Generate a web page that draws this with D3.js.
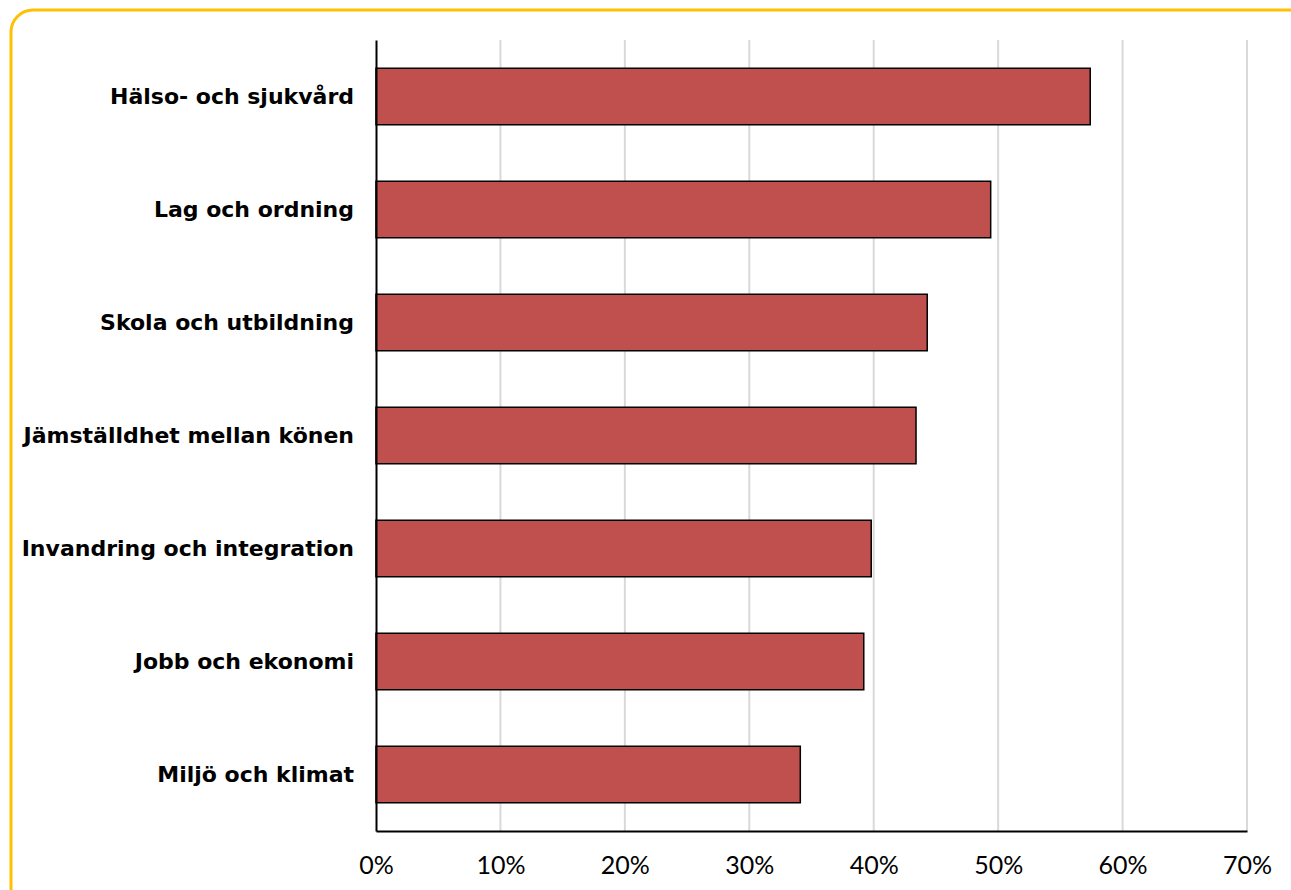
<!DOCTYPE html>
<html><head><meta charset="utf-8">
<script src="https://cdn.jsdelivr.net/npm/d3@7"></script>
<style>body{margin:0;background:#fff;}svg{display:block;}</style>
</head><body>
<script>
const categories = ["Hälso- och sjukvård","Lag och ordning","Skola och utbildning","Jämställdhet mellan könen","Invandring och integration","Jobb och ekonomi","Miljö och klimat"];
const values = [0.574, 0.494, 0.443, 0.434, 0.398, 0.392, 0.341];
const tickValues = [0,0.1,0.2,0.3,0.4,0.5,0.6,0.7];

(function(){
const W = 1291, H = 890;
const svg = d3.select("body").append("svg").attr("width", W).attr("height", H);

svg.append("rect").attr("x", 11).attr("y", 10).attr("width", 1300).attr("height", 900)
  .attr("rx", 22).attr("fill", "none").attr("stroke", "#FFC000").attr("stroke-width", 3);

const pl = 376, pr = 1247, pt = 40, pb = 831;
const x = d3.scaleLinear().domain([0, 0.7]).range([pl, pr]);
const y = d3.scaleBand().domain(categories).range([pt, pb]).paddingInner(0.5).paddingOuter(0.25);

svg.append("g").selectAll("line").data(tickValues.slice(1)).join("line")
  .attr("x1", d => x(d)).attr("x2", d => x(d)).attr("y1", pt).attr("y2", pb)
  .attr("stroke", "#d9d9d9").attr("stroke-width", 2);

svg.append("g").selectAll("rect").data(categories).join("rect")
  .attr("x", x(0)).attr("y", d => y(d)).attr("width", (d,i) => x(values[i]) - x(0))
  .attr("height", y.bandwidth()).attr("fill", "#C0504D").attr("stroke", "#000").attr("stroke-width", 1.5);

const xAxis = d3.axisBottom(x).tickValues(tickValues).tickFormat(d3.format(".0%")).tickSize(0).tickPadding(25);
const gx = svg.append("g").attr("transform", `translate(0,${pb})`).call(xAxis);
gx.select(".domain").attr("stroke", "#000").attr("stroke-width", 2);
gx.selectAll("text").attr("font-family", "Lato, 'Open Sans', sans-serif").attr("font-size", 25).attr("fill", "#000");

const yAxis = d3.axisLeft(y).tickSize(0).tickPadding(22);
const gy = svg.append("g").attr("transform", `translate(${pl},0)`).call(yAxis);
gy.select(".domain").attr("stroke", "#000").attr("stroke-width", 2);
gy.selectAll("text").attr("font-family", "'DejaVu Sans', sans-serif").attr("font-weight", "bold").attr("font-size", 22).attr("fill", "#000");
})();
</script>
</body></html>
